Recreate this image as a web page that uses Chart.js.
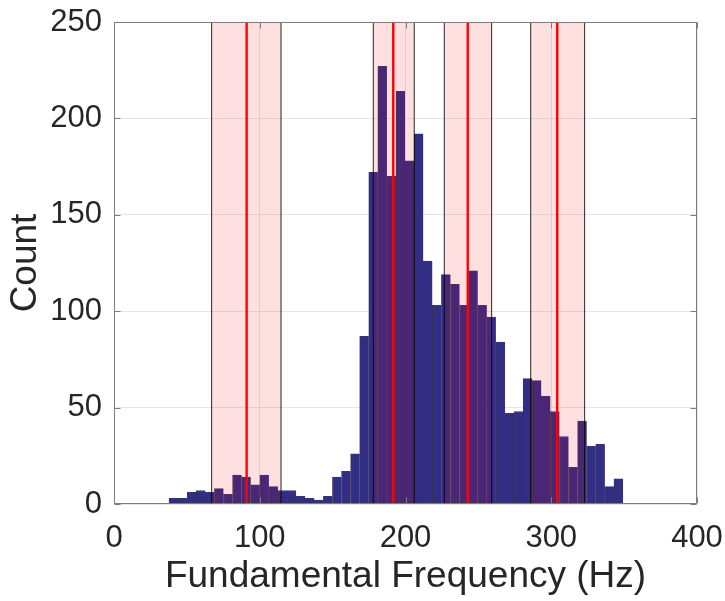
<!DOCTYPE html>
<html>
<head>
<meta charset="utf-8">
<script src="https://cdn.jsdelivr.net/npm/chart.js@4.4.1/dist/chart.umd.min.js"></script>
<style>
  html, body { margin: 0; padding: 0; background: #ffffff; }
  canvas { display: block; }
</style>
</head>
<body>
<canvas id="histChart" width="725" height="601"></canvas>
<script>
// histogram bins (centre of each bin, Hz) and counts
const binCentres = [
  40.86, 47.09, 53.32, 59.55, 65.78, 72.01, 78.24, 84.47, 90.70, 96.93,
  103.16, 109.39, 115.62, 121.85, 128.08, 134.31, 140.54, 146.77, 153.00, 159.23,
  165.46, 171.69, 177.92, 184.15, 190.38, 196.61, 202.84, 209.07, 215.30, 221.53,
  227.76, 233.99, 240.22, 246.45, 252.68, 258.91, 265.14, 271.37, 277.60, 283.83,
  290.06, 296.29, 302.52, 308.75, 314.98, 321.21, 327.44, 333.67, 339.90, 346.13
];
const binCounts = [
  3, 3, 6, 7, 6, 8, 5, 15, 14, 10,
  15, 9, 7, 7, 4, 3, 2, 4, 14, 17,
  26, 87, 172, 227, 170, 214, 178, 192, 126, 103,
  119, 114, 103, 121, 103, 97, 84, 47, 48, 65,
  64, 56, 48, 35, 19, 43, 30, 31, 9, 13
];

// shaded bands (Hz) and their centre lines
const bandLow = [67.0, 177.9, 226.6, 285.9];
const bandHigh = [114.6, 206.0, 259.1, 322.9];
const bandCentre = [91.0, 191.6, 242.7, 304.1];

const xTicks = [0, 100, 200, 300, 400];
const yTicks = [0, 50, 100, 150, 200, 250];
const yTop = 250;

const FONT = '"Liberation Sans", Arial, Helvetica, sans-serif';

const histData = binCentres.map((c, i) => ({ x: c, y: binCounts[i] }));

const bandFills = bandLow.map((lo, i) => ({
  type: 'line',
  data: [{ x: lo, y: yTop }, { x: bandHigh[i], y: yTop }],
  borderWidth: 0,
  borderColor: 'rgba(0,0,0,0)',
  backgroundColor: 'rgba(255,0,0,0.12)',
  fill: 'origin',
  pointRadius: 0,
  order: 2
}));

const edgePoints = [];
bandLow.forEach((lo, i) => {
  edgePoints.push({ x: lo, y: 0 }, { x: lo, y: yTop }, { x: lo, y: null });
  edgePoints.push({ x: bandHigh[i], y: 0 }, { x: bandHigh[i], y: yTop }, { x: bandHigh[i], y: null });
});

const centrePoints = [];
bandCentre.forEach(c => {
  centrePoints.push({ x: c, y: 0 }, { x: c, y: yTop }, { x: c, y: null });
});

// keep label overhang from moving the plot area
function noPad(s) {
  s.paddingTop = 0; s.paddingBottom = 0; s.paddingLeft = 0; s.paddingRight = 0;
}

// box round the plot with inward tick marks, like the original axes
const boxPlugin = {
  id: 'boxTicks',
  afterDatasetsDraw(chart) {
    const { ctx, chartArea: a, scales: { x, y } } = chart;
    ctx.save();
    ctx.strokeStyle = '#7d7d7d';
    ctx.lineWidth = 1;
    ctx.beginPath();
    const L = Math.round(a.left) + 0.5, R = Math.round(a.right) - 0.5;
    const T = Math.round(a.top) + 0.5, B = Math.round(a.bottom) - 0.5;
    ctx.rect(L, T, R - L, B - T);
    const len = 6;
    xTicks.forEach(v => {
      const px = Math.round(x.getPixelForValue(v)) + 0.5;
      ctx.moveTo(px, B); ctx.lineTo(px, B - len);
      ctx.moveTo(px, T); ctx.lineTo(px, T + len);
    });
    yTicks.forEach(v => {
      const py = Math.round(y.getPixelForValue(v)) + 0.5;
      ctx.moveTo(L, py); ctx.lineTo(L + len, py);
      ctx.moveTo(R, py); ctx.lineTo(R - len, py);
    });
    ctx.stroke();
    ctx.restore();
  }
};

new Chart(document.getElementById('histChart'), {
  type: 'bar',
  data: {
    datasets: [
      {
        type: 'line',
        data: centrePoints,
        borderColor: '#ff0000',
        borderWidth: 2.4,
        pointRadius: 0,
        fill: false,
        spanGaps: false,
        order: 0
      },
      {
        type: 'line',
        data: edgePoints,
        borderColor: 'rgba(0,0,0,0.85)',
        borderWidth: 1,
        pointRadius: 0,
        fill: false,
        spanGaps: false,
        order: 1
      },
      ...bandFills,
      {
        type: 'bar',
        data: histData,
        backgroundColor: '#322d85',
        borderColor: 'rgba(25,22,60,0.85)',
        borderWidth: { top: 1, left: 1, right: 0, bottom: 0 },
        borderSkipped: false,
        barPercentage: 1,
        categoryPercentage: 1,
        order: 3
      }
    ]
  },
  options: {
    responsive: false,
    animation: false,
    devicePixelRatio: 1,
    layout: { padding: { top: 22, right: 28, left: 0, bottom: 0 } },
    plugins: {
      legend: { display: false },
      tooltip: { enabled: false }
    },
    scales: {
      x: {
        type: 'linear',
        min: 0,
        max: 400,
        offset: false,
        afterFit: s => { s.height = 97; noPad(s); },
        afterBuildTicks: s => { s.ticks = xTicks.map(v => ({ value: v })); },
        grid: { color: '#e6e6e6', drawTicks: false, offset: false },
        border: { display: false },
        ticks: {
          color: '#262626',
          font: { family: FONT, size: 31 },
          padding: 16,
          maxRotation: 0
        },
        title: {
          display: true,
          text: 'Fundamental Frequency (Hz)',
          color: '#262626',
          font: { family: FONT, size: 37 },
          padding: { top: 0, bottom: 2 }
        }
      },
      y: {
        min: 0,
        max: 250,
        afterFit: s => { s.width = 114; noPad(s); },
        afterBuildTicks: s => { s.ticks = yTicks.map(v => ({ value: v })); },
        grid: { color: '#e6e6e6', drawTicks: false },
        border: { display: false },
        ticks: {
          color: '#262626',
          font: { family: FONT, size: 31 },
          padding: 12
        },
        title: {
          display: true,
          text: 'Count',
          color: '#262626',
          font: { family: FONT, size: 37 },
          padding: { top: 4, bottom: 0 }
        }
      }
    }
  },
  plugins: [boxPlugin]
});
</script>
</body>
</html>
